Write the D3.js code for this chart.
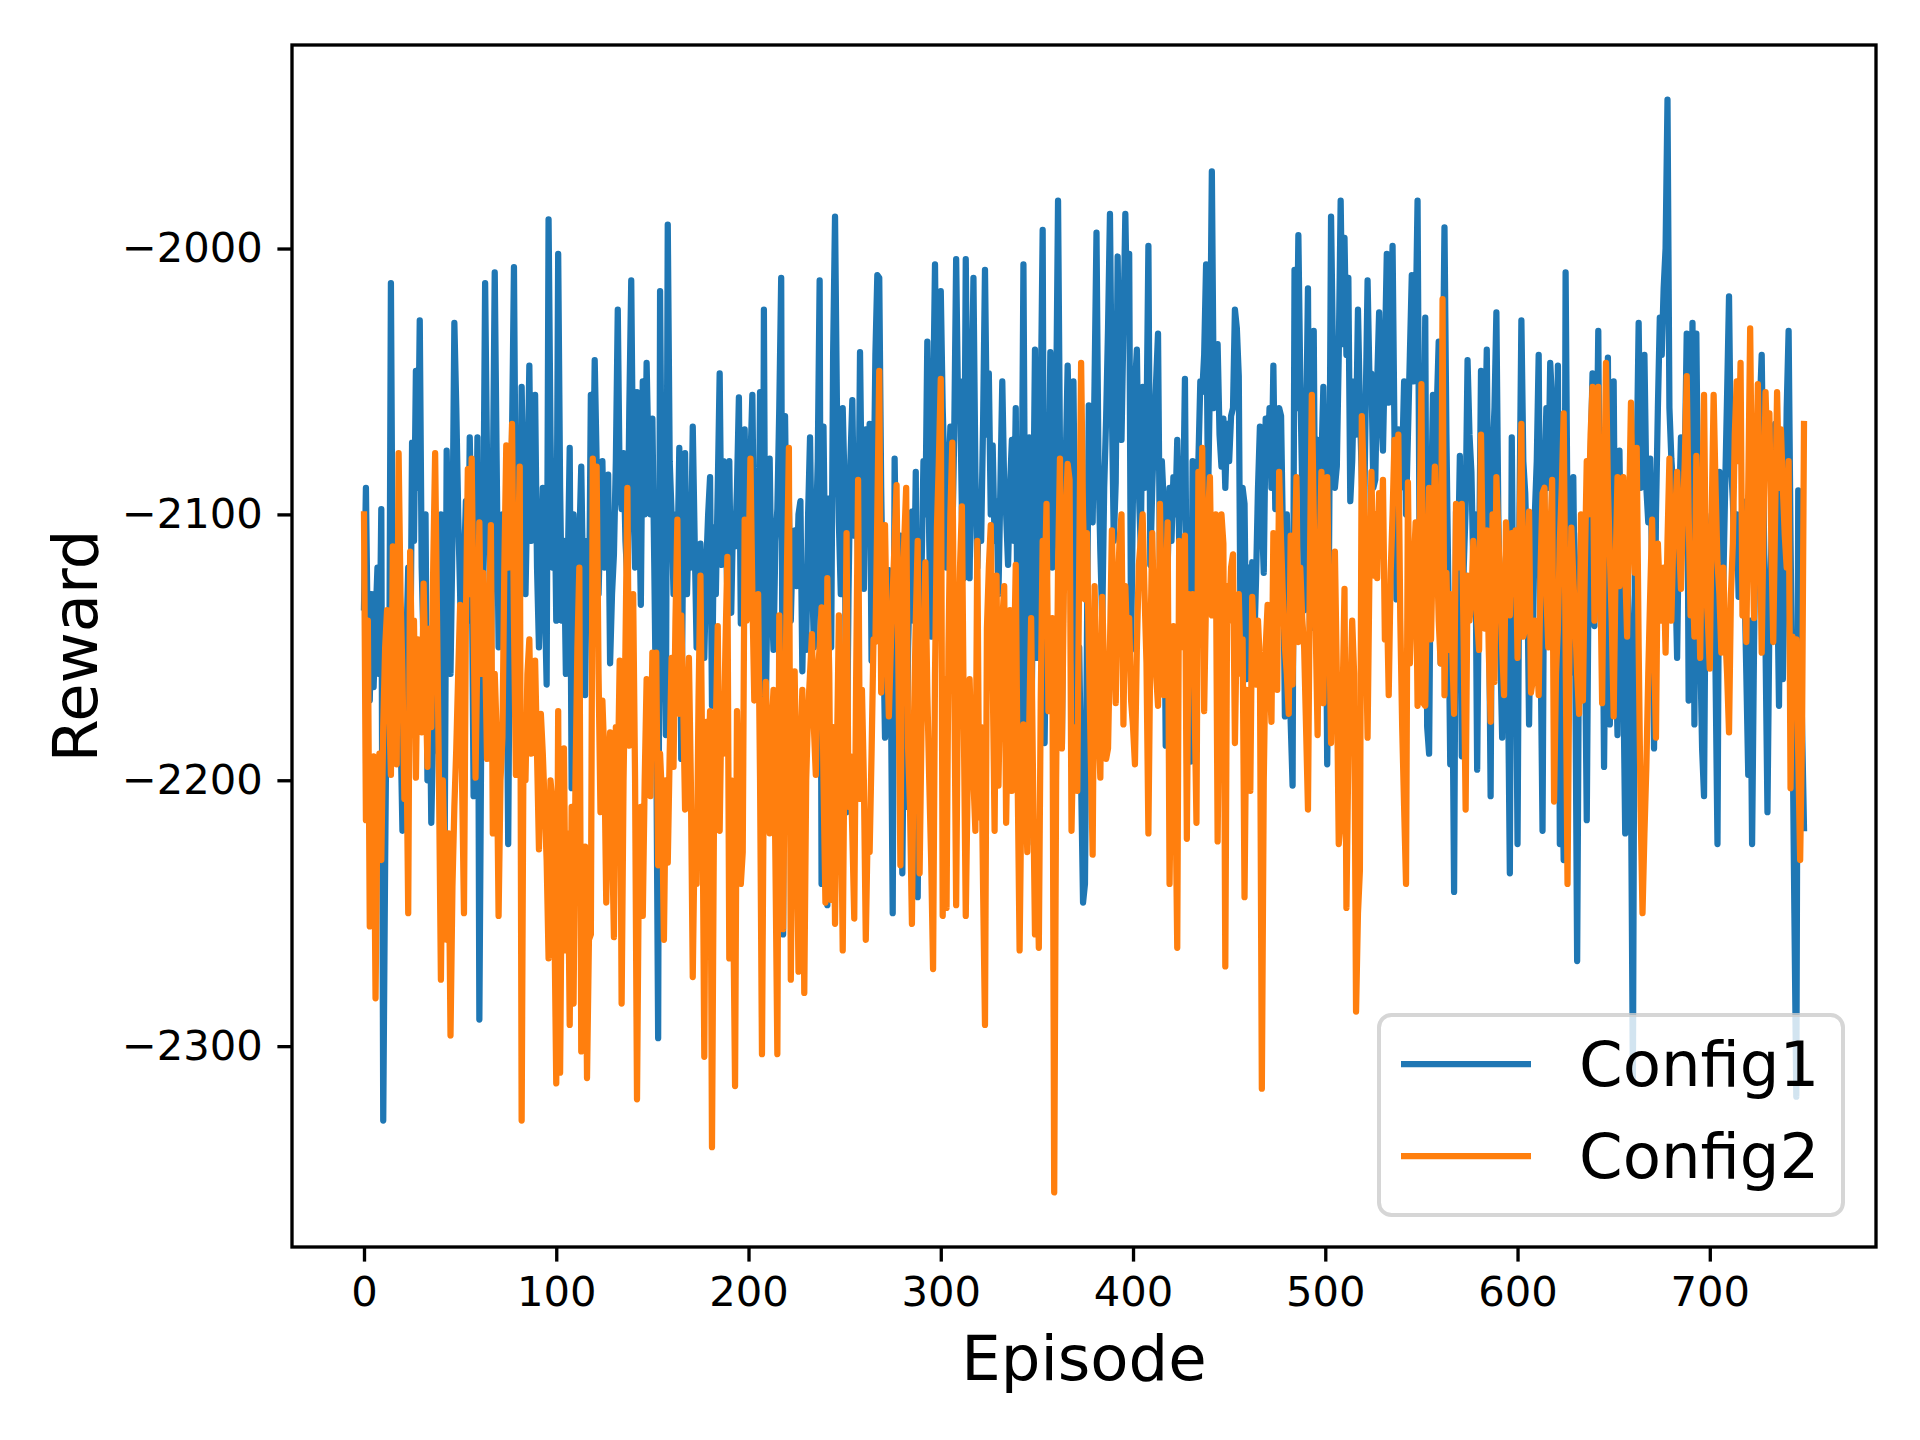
<!DOCTYPE html>
<html lang="en">
<head>
<meta charset="UTF-8">
<title>Reward per episode</title>
<script src="https://cdn.jsdelivr.net/npm/d3@7"></script>
<style>
  body { margin: 0; background: #fff; }
  svg { display: block; font-family: "DejaVu Sans", sans-serif; }
</style>
</head>
<body>
<svg id="chart" width="1920" height="1440"></svg>
<script>
// series, one value per episode (0..749)
var config1 = [
 -2135,-2090,-2150,-2170,-2130,-2165,-2140,-2120,-2160,-2098,-2328,-2230,-2150,-2190,-2013,-2140,-2190,-2160,-2120,-2180,-2219,-2170,-2150,-2120,-2170,
 -2073,-2110,-2046,-2090,-2027,-2120,-2150,-2100,-2200,-2150,-2216,-2180,-2130,-2150,-2190,-2100,-2160,-2222,-2076,-2120,-2160,-2110,-2028,-2060,-2100,
 -2130,-2175,-2120,-2095,-2140,-2071,-2110,-2206,-2150,-2071,-2290,-2180,-2110,-2013,-2080,-2105,-2160,-2090,-2009,-2080,-2150,-2120,-2100,-2160,-2130,
 -2224,-2120,-2070,-2007,-2110,-2079,-2140,-2052,-2100,-2130,-2090,-2044,-2110,-2080,-2055,-2120,-2150,-2120,-2090,-2130,-2164,-1989,-2070,-2120,-2080,
 -2140,-2002,-2090,-2140,-2110,-2160,-2120,-2075,-2203,-2100,-2127,-2160,-2110,-2082,-2130,-2168,-2110,-2140,-2055,-2100,-2042,-2080,-2130,-2100,-2080,
 -2120,-2100,-2085,-2156,-2130,-2115,-2080,-2023,-2090,-2098,-2077,-2110,-2125,-2060,-2012,-2090,-2120,-2054,-2090,-2134,-2050,-2100,-2043,-2080,-2100,
 -2064,-2120,-2182,-2297,-2016,-2110,-2140,-2183,-1991,-2080,-2100,-2130,-2100,-2120,-2075,-2192,-2110,-2077,-2130,-2100,-2120,-2067,-2110,-2150,-2120,
 -2111,-2140,-2154,-2120,-2100,-2086,-2172,-2105,-2130,-2090,-2047,-2119,-2080,-2100,-2130,-2080,-2137,-2100,-2112,-2090,-2056,-2141,-2100,-2068,-2120,
 -2111,-2080,-2055,-2120,-2103,-2140,-2054,-2258,-2023,-2174,-2120,-2079,-2130,-2151,-2110,-2098,-2060,-2011,-2258,-2063,-2120,-2095,-2140,-2110,-2106,
 -2127,-2100,-2095,-2159,-2120,-2151,-2100,-2071,-2120,-2150,-2110,-2080,-2012,-2239,-2067,-2130,-2247,-2094,-2150,-2040,-1988,-2060,-2103,-2130,-2060,
 -2090,-2212,-2130,-2080,-2057,-2108,-2080,-2120,-2039,-2100,-2128,-2068,-2100,-2066,-2155,-2100,-2040,-2010,-2011,-2090,-2140,-2184,-2130,-2121,-2160,
 -2250,-2079,-2130,-2170,-2108,-2235,-2160,-2210,-2150,-2120,-2099,-2140,-2084,-2244,-2150,-2121,-2080,-2100,-2035,-2110,-2146,-2060,-2006,-2080,-2104,
 -2016,-2060,-2087,-2120,-2090,-2067,-2110,-2070,-2004,-2060,-2050,-2100,-2124,-2004,-2080,-2124,-2060,-2011,-2084,-2120,-2095,-2110,-2066,-2008,-2070,
 -2047,-2100,-2074,-2110,-2095,-2130,-2090,-2050,-2090,-2100,-2119,-2090,-2072,-2110,-2060,-2150,-2204,-2110,-2006,-2130,-2224,-2071,-2204,-2110,-2038,
 -2154,-2090,-2060,-1993,-2186,-2130,-2098,-2039,-2120,-2095,-2060,-1982,-2076,-2187,-2100,-2080,-2044,-2079,-2110,-2050,-2120,-2203,-2150,-2200,-2246,
 -2239,-2150,-2059,-2100,-2103,-2050,-1994,-2080,-2114,-2140,-2090,-2064,-2030,-1987,-2060,-2110,-2088,-2003,-2060,-2072,-2030,-1987,-2030,-2002,-2151,
 -2090,-2052,-2038,-2090,-2112,-2052,-2090,-2068,-1999,-2119,-2090,-2068,-2050,-2032,-2119,-2080,-2096,-2187,-2120,-2090,-2110,-2086,-2100,-2072,-2110,
 -2084,-2100,-2049,-2143,-2110,-2193,-2080,-2120,-2162,-2080,-2050,-2054,-2040,-2006,-2095,-2050,-1971,-2060,-2052,-2036,-2070,-2082,-2064,-2090,-2066,
 -2080,-2063,-2060,-2023,-2030,-2048,-2154,-2090,-2096,-2162,-2120,-2140,-2118,-2151,-2124,-2090,-2067,-2100,-2122,-2064,-2080,-2060,-2090,-2044,-2098,
 -2070,-2060,-2063,-2110,-2176,-2100,-2140,-2178,-2202,-2008,-2060,-1995,-2050,-2090,-2136,-2070,-2015,-2143,-2080,-2031,-2143,-2072,-2100,-2080,-2052,
 -2092,-2194,-2110,-1988,-2040,-2090,-2082,-2040,-1982,-2036,-1996,-2040,-2011,-2095,-2080,-2050,-2070,-2023,-2060,-2086,-2111,-2060,-2012,-2050,-2047,
 -2090,-2087,-2050,-2024,-2060,-2076,-2040,-2002,-2058,-2030,-1999,-2070,-2132,-2068,-2090,-2080,-2050,-2100,-2070,-2040,-2010,-2050,-2030,-1982,-2106,
 -2070,-2095,-2026,-2180,-2190,-2100,-2055,-2080,-2060,-2035,-2156,-2060,-1992,-2070,-2127,-2194,-2150,-2242,-2099,-2120,-2078,-2191,-2120,-2098,-2042,
 -2070,-2084,-2120,-2100,-2196,-2120,-2046,-2106,-2080,-2038,-2120,-2206,-2079,-2060,-2024,-2100,-2151,-2184,-2130,-2116,-2160,-2235,-2071,-2162,-2130,
 -2224,-2100,-2027,-2080,-2092,-2119,-2179,-2120,-2146,-2100,-2080,-2040,-2150,-2219,-2087,-2060,-2090,-2043,-2058,-2143,-2119,-2044,-2224,-2180,-2230,
 -2009,-2104,-2160,-2120,-2086,-2150,-2268,-2140,-2107,-2168,-2140,-2215,-2118,-2080,-2047,-2142,-2090,-2031,-2135,-2100,-2195,-2120,-2041,-2179,-2110,
 -2050,-2147,-2183,-2076,-2130,-2160,-2220,-2120,-2146,-2200,-2312,-2123,-2080,-2028,-2090,-2068,-2040,-2090,-2103,-2079,-2120,-2188,-2100,-2060,-2026,
 -2040,-2015,-2000,-1944,-2060,-2079,-2091,-2120,-2154,-2100,-2071,-2111,-2080,-2032,-2170,-2090,-2028,-2179,-2032,-2103,-2150,-2188,-2206,-2106,-2130,
 -2110,-2100,-2124,-2160,-2224,-2084,-2110,-2127,-2090,-2055,-2018,-2080,-2095,-2120,-2100,-2131,-2110,-2095,-2124,-2160,-2198,-2140,-2224,-2150,-2092,
 -2070,-2060,-2040,-2098,-2150,-2212,-2140,-2112,-2090,-2066,-2120,-2172,-2086,-2162,-2120,-2060,-2031,-2110,-2175,-2250,-2319,-2091,-2140,-2180,-2218
];
var config2 = [
 -2100,-2215,-2140,-2255,-2200,-2191,-2282,-2210,-2190,-2230,-2180,-2150,-2136,-2170,-2198,-2112,-2160,-2194,-2077,-2130,-2160,-2207,-2180,-2250,-2114,
 -2160,-2140,-2199,-2147,-2170,-2182,-2126,-2160,-2195,-2143,-2180,-2120,-2077,-2140,-2200,-2275,-2200,-2231,-2260,-2220,-2296,-2240,-2210,-2188,-2160,
 -2134,-2200,-2250,-2140,-2083,-2130,-2079,-2140,-2199,-2150,-2103,-2160,-2122,-2150,-2192,-2140,-2104,-2220,-2160,-2182,-2251,-2200,-2184,-2120,-2074,
 -2120,-2100,-2066,-2140,-2198,-2120,-2082,-2328,-2180,-2200,-2160,-2147,-2190,-2186,-2155,-2190,-2226,-2175,-2190,-2210,-2230,-2267,-2200,-2208,-2250,
 -2314,-2174,-2310,-2220,-2188,-2264,-2220,-2292,-2210,-2284,-2200,-2150,-2120,-2302,-2240,-2225,-2312,-2260,-2258,-2079,-2130,-2082,-2160,-2212,-2170,
 -2191,-2246,-2200,-2182,-2220,-2259,-2180,-2200,-2155,-2284,-2200,-2150,-2090,-2187,-2160,-2130,-2200,-2320,-2230,-2210,-2251,-2200,-2162,-2180,-2206,
 -2152,-2180,-2152,-2232,-2190,-2207,-2260,-2200,-2231,-2190,-2154,-2195,-2140,-2102,-2175,-2138,-2170,-2211,-2180,-2154,-2200,-2274,-2220,-2239,-2170,
 -2123,-2200,-2304,-2178,-2200,-2174,-2338,-2218,-2180,-2142,-2219,-2168,-2190,-2150,-2116,-2267,-2200,-2243,-2315,-2174,-2210,-2239,-2227,-2102,-2140,
 -2120,-2079,-2130,-2170,-2150,-2130,-2200,-2303,-2190,-2163,-2190,-2220,-2180,-2166,-2230,-2303,-2138,-2200,-2256,-2180,-2120,-2075,-2275,-2200,-2159,
 -2210,-2272,-2190,-2166,-2280,-2200,-2174,-2160,-2145,-2180,-2198,-2160,-2150,-2135,-2200,-2246,-2124,-2160,-2245,-2180,-2254,-2190,-2138,-2200,-2264,
 -2180,-2107,-2210,-2191,-2220,-2252,-2160,-2087,-2207,-2166,-2200,-2260,-2218,-2227,-2190,-2147,-2148,-2100,-2046,-2167,-2130,-2104,-2150,-2176,-2151,
 -2130,-2110,-2089,-2160,-2232,-2127,-2110,-2090,-2188,-2210,-2254,-2180,-2140,-2110,-2235,-2180,-2150,-2118,-2167,-2200,-2230,-2271,-2160,-2105,-2080,
 -2049,-2251,-2162,-2248,-2150,-2100,-2073,-2160,-2247,-2159,-2120,-2097,-2180,-2251,-2200,-2162,-2190,-2200,-2219,-2110,-2214,-2180,-2240,-2292,-2143,
 -2120,-2104,-2160,-2219,-2123,-2202,-2160,-2140,-2127,-2216,-2170,-2136,-2204,-2160,-2119,-2200,-2264,-2200,-2179,-2200,-2227,-2180,-2139,-2200,-2258,
 -2220,-2263,-2170,-2110,-2130,-2096,-2174,-2150,-2139,-2355,-2200,-2120,-2079,-2188,-2130,-2100,-2081,-2087,-2219,-2180,-2190,-2204,-2120,-2043,-2100,
 -2132,-2107,-2150,-2190,-2228,-2127,-2160,-2180,-2199,-2131,-2160,-2192,-2188,-2150,-2106,-2140,-2171,-2130,-2110,-2100,-2179,-2127,-2150,-2139,-2170,
 -2180,-2194,-2150,-2119,-2110,-2100,-2130,-2156,-2220,-2150,-2107,-2140,-2160,-2172,-2096,-2140,-2168,-2130,-2103,-2239,-2180,-2142,-2200,-2263,-2110,
 -2150,-2130,-2108,-2222,-2130,-2160,-2130,-2170,-2216,-2084,-2120,-2075,-2174,-2130,-2100,-2086,-2138,-2120,-2100,-2223,-2150,-2100,-2111,-2270,-2127,
 -2140,-2120,-2115,-2186,-2140,-2130,-2160,-2147,-2244,-2166,-2190,-2204,-2131,-2150,-2164,-2140,-2156,-2316,-2200,-2150,-2134,-2160,-2178,-2107,-2140,
 -2166,-2084,-2110,-2132,-2150,-2160,-2175,-2108,-2164,-2120,-2086,-2148,-2120,-2139,-2150,-2180,-2211,-2120,-2055,-2100,-2142,-2183,-2120,-2084,-2171,
 -2120,-2086,-2140,-2186,-2150,-2114,-2160,-2224,-2216,-2170,-2128,-2248,-2190,-2170,-2140,-2160,-2287,-2250,-2234,-2063,-2086,-2140,-2184,-2120,-2084,
 -2123,-2100,-2124,-2092,-2110,-2087,-2147,-2130,-2168,-2122,-2100,-2072,-2090,-2070,-2139,-2180,-2210,-2239,-2088,-2156,-2132,-2120,-2103,-2172,-2110,
 -2051,-2171,-2172,-2120,-2090,-2147,-2110,-2082,-2111,-2140,-2156,-2019,-2168,-2122,-2151,-2130,-2150,-2175,-2096,-2120,-2110,-2096,-2150,-2211,-2123,
 -2140,-2132,-2110,-2122,-2140,-2151,-2070,-2120,-2143,-2106,-2150,-2178,-2100,-2163,-2086,-2107,-2130,-2150,-2168,-2103,-2120,-2138,-2107,-2130,-2106,
 -2154,-2110,-2066,-2146,-2143,-2120,-2099,-2167,-2162,-2140,-2150,-2168,-2120,-2092,-2090,-2130,-2150,-2110,-2087,-2208,-2160,-2143,-2110,-2090,-2062,
 -2150,-2239,-2150,-2105,-2124,-2140,-2160,-2175,-2100,-2170,-2120,-2080,-2100,-2070,-2052,-2140,-2090,-2052,-2120,-2171,-2100,-2043,-2090,-2115,-2140,
 -2176,-2120,-2086,-2127,-2100,-2086,-2120,-2146,-2100,-2058,-2100,-2122,-2075,-2150,-2210,-2250,-2220,-2195,-2160,-2130,-2102,-2150,-2184,-2111,-2130,
 -2140,-2120,-2152,-2110,-2079,-2140,-2110,-2100,-2084,-2110,-2128,-2100,-2080,-2048,-2100,-2138,-2120,-2146,-2078,-2110,-2154,-2100,-2055,-2127,-2140,
 -2158,-2100,-2055,-2090,-2118,-2130,-2152,-2120,-2144,-2160,-2182,-2130,-2111,-2070,-2050,-2080,-2043,-2138,-2120,-2148,-2090,-2030,-2100,-2139,-2090,
 -2051,-2100,-2152,-2100,-2054,-2080,-2062,-2110,-2148,-2100,-2054,-2090,-2068,-2090,-2108,-2120,-2080,-2203,-2146,-2160,-2147,-2190,-2230,-2180,-2066
];
var seriesNames = ["Config1", "Config2"];
var seriesColors = ["#1f77b4", "#ff7f0e"];
var xTicks = [0, 100, 200, 300, 400, 500, 600, 700];
var yTicks = [-2300, -2200, -2100, -2000];

var margin = {left: 292, top: 45, right: 1876, bottom: 1247};
var svg = d3.select("#chart");

var series = [config1, config2];
var n = config1.length;

// matplotlib style 5% margins
var xPad = (n - 1) * 0.05;
var allVals = config1.concat(config2);
var yMin = d3.min(allVals), yMax = d3.max(allVals);
var yPad = (yMax - yMin) * 0.05;

var x = d3.scaleLinear()
    .domain([0 - xPad, n - 1 + xPad])
    .range([margin.left, margin.right]);
var y = d3.scaleLinear()
    .domain([yMin - yPad, yMax + yPad])
    .range([margin.bottom, margin.top]);

var line = d3.line()
    .x(function(d, i) { return x(i); })
    .y(function(d) { return y(d); });

svg.selectAll("path.series")
    .data(series)
    .enter()
    .append("path")
    .attr("class", "series")
    .attr("d", line)
    .attr("fill", "none")
    .attr("stroke", function(d, i) { return seriesColors[i]; })
    .attr("stroke-width", 6.25)
    .attr("stroke-linejoin", "round")
    .attr("stroke-linecap", "square");

// axes
var tickLen = 14.6, tickPad = 14.6;
var xAxis = svg.append("g")
    .attr("transform", "translate(0," + margin.bottom + ")")
    .call(d3.axisBottom(x).tickValues(xTicks).tickFormat(d3.format("d"))
        .tickSize(tickLen).tickPadding(tickPad));
var yAxis = svg.append("g")
    .attr("transform", "translate(" + margin.left + ",0)")
    .call(d3.axisLeft(y).tickValues(yTicks).tickFormat(d3.format("d"))
        .tickSize(tickLen).tickPadding(tickPad));

[xAxis, yAxis].forEach(function(g) {
    g.select(".domain").remove();
    g.selectAll(".tick line").attr("stroke", "#000").attr("stroke-width", 3.33);
    g.selectAll(".tick text")
        .attr("fill", "#000")
        .style("font-family", "'DejaVu Sans', sans-serif")
        .style("font-size", "41.67px");
});

// frame
svg.append("rect")
    .attr("x", margin.left)
    .attr("y", margin.top)
    .attr("width", margin.right - margin.left)
    .attr("height", margin.bottom - margin.top)
    .attr("fill", "none")
    .attr("stroke", "#000")
    .attr("stroke-width", 3.33);

// axis labels
svg.append("text")
    .attr("x", (margin.left + margin.right) / 2)
    .attr("y", 1380)
    .attr("text-anchor", "middle")
    .style("font-size", "62.5px")
    .text("Episode");

svg.append("text")
    .attr("transform", "translate(97," + (margin.top + margin.bottom) / 2 + ") rotate(-90)")
    .attr("text-anchor", "middle")
    .style("font-size", "62.5px")
    .text("Reward");

// legend
var legend = svg.append("g");
legend.append("rect")
    .attr("x", 1379)
    .attr("y", 1015)
    .attr("width", 1843 - 1379)
    .attr("height", 1215 - 1015)
    .attr("rx", 12.5)
    .attr("fill", "#fff")
    .attr("fill-opacity", 0.8)
    .attr("stroke", "#cccccc")
    .attr("stroke-opacity", 0.8)
    .attr("stroke-width", 4);

var rowY = [1064, 1156];
var items = legend.selectAll("g.item")
    .data(seriesNames)
    .enter()
    .append("g")
    .attr("class", "item");
items.append("line")
    .attr("x1", 1401).attr("x2", 1531)
    .attr("y1", function(d, i) { return rowY[i]; })
    .attr("y2", function(d, i) { return rowY[i]; })
    .attr("stroke", function(d, i) { return seriesColors[i]; })
    .attr("stroke-width", 6.25);
items.append("text")
    .attr("x", 1579)
    .attr("y", function(d, i) { return rowY[i] + 22; })
    .style("font-size", "62.5px")
    .text(function(d) { return d; });
</script>
</body>
</html>
